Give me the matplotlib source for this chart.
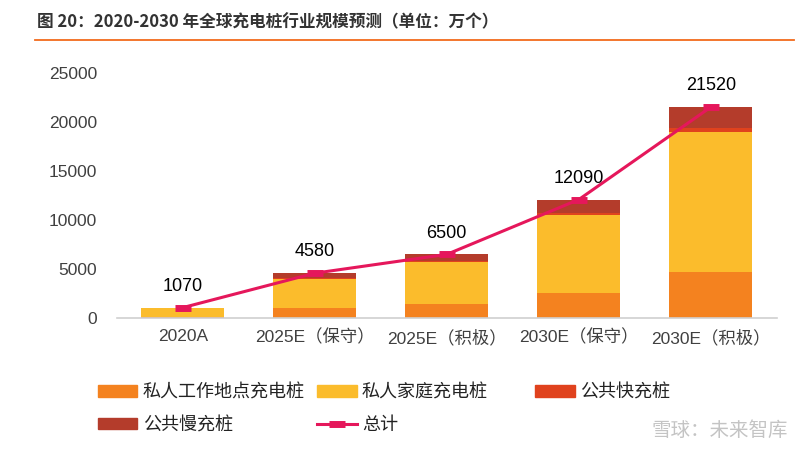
import matplotlib
matplotlib.use("Agg")
import matplotlib.pyplot as plt
from matplotlib.lines import Line2D
from matplotlib.patches import Patch
import numpy as np

plt.rcParams['font.family'] = ['Liberation Sans', 'Noto Sans CJK SC']

categories = ["2020A", "2025E（保守）", "2025E（积极）", "2030E（保守）", "2030E（积极）"]
work = [100, 1000, 1400, 2600, 4700]       # 私人工作地点充电桩
home = [900, 3000, 4300, 7900, 14300]      # 私人家庭充电桩
fast = [30, 100, 150, 200, 400]            # 公共快充桩
slow = [40, 480, 650, 1390, 2120]          # 公共慢充桩
total = [1070, 4580, 6500, 12090, 21520]   # 总计

c_work, c_home, c_fast, c_slow = "#F4821F", "#FBBC2C", "#E0421D", "#B43C2B"
c_line = "#E5175B"

fig = plt.figure(figsize=(8, 4.59), dpi=100)
ax = fig.add_axes([0.146, 0.307, 0.825, 0.534])

x = np.arange(len(categories))
w = 0.63
b = np.zeros(len(x))
for vals, col in [(work, c_work), (home, c_home), (fast, c_fast), (slow, c_slow)]:
    ax.bar(x, vals, w, bottom=b, color=col, zorder=2)
    b += np.array(vals)

ax.plot(x, total, color=c_line, lw=2.2, marker="_", ms=12, mew=5, zorder=3)
for xi, t in zip(x, total):
    ax.text(xi, t + 1300, str(t), ha="center", va="bottom", fontsize=13, color="#000000")

ax.set_xlim(-0.5, 4.5)
ax.set_ylim(0, 25000)
ax.set_yticks(range(0, 25001, 5000))
ax.set_xticks(x)
ax.set_xticklabels(categories)
ax.tick_params(axis="both", length=0, labelsize=12.5, colors="#404040")
ax.tick_params(axis="x", pad=8)
ax.tick_params(axis="y", pad=14)
for s in ["top", "right", "left"]:
    ax.spines[s].set_visible(False)
ax.spines["bottom"].set_color("#d0d0d0")
ax.spines["bottom"].set_linewidth(1.2)

# title and rule
fig.text(0.046, 0.952, "图 20：2020-2030 年全球充电桩行业规模预测（单位：万个）",
         fontsize=12, fontweight="bold", color="#333333", va="center",
         family=['Noto Sans CJK SC', 'DejaVu Sans'])
fig.add_artist(Line2D([0.044, 0.992], [0.912, 0.912], color="#F26B1D", lw=1.3))

handles = [Patch(color=c_work), Patch(color=c_home), Patch(color=c_fast), Patch(color=c_slow),
           Line2D([], [], color=c_line, lw=2.2, marker="_", ms=12, mew=5)]
labels = ["私人工作地点充电桩", "私人家庭充电桩", "公共快充桩", "公共慢充桩", "总计"]
pos = [(0.122, 0.145), (0.396, 0.145), (0.669, 0.145), (0.122, 0.074), (0.396, 0.074)]
for h, l, (px, py) in zip(handles, labels, pos):
    fig.legend([h], [l], loc="center left", bbox_to_anchor=(px, py), frameon=False,
               handlelength=2.2, handleheight=0.6, handletextpad=0.3,
               borderaxespad=0, borderpad=0, labelcolor="#222222",
               prop={'family': ['Noto Sans CJK SC'], 'size': 13})

fig.text(0.985, 0.062, "雪球：未来智库", fontsize=14, color="#c4c4c4", ha="right", va="center",
         family=['Noto Sans CJK SC'])

fig.savefig("out.png", dpi=100)
